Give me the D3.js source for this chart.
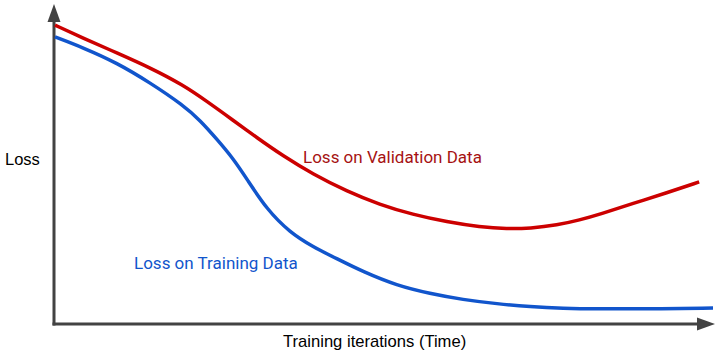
<!DOCTYPE html>
<html>
<head>
<meta charset="utf-8">
<script src="https://cdn.jsdelivr.net/npm/d3@7"></script>
<style>
  html, body { margin: 0; padding: 0; background: #fff; }
</style>
</head>
<body>
<script>
const WIDTH = 720;
const HEIGHT = 353;
const AXIS_COLOR = "#434343";
const RED = "#cc0000";
const BLUE = "#1155cc";

// iterations (0-100) and loss (0-100)
const validationIter = [0, 4.2, 9.4, 14.4, 19.4, 23.0, 26.9, 30.6, 34.5, 39.1, 44.2, 49.2, 54.2, 59.4, 64.4, 68.5, 72.0, 76.1, 79.5, 82.6, 87.6, 92.7, 97.6];
const validationLoss = [93.4, 89.4, 84.7, 80.1, 74.7, 69.6, 63.8, 58.2, 52.6, 46.8, 41.5, 37.3, 34.2, 31.9, 30.3, 29.7, 29.9, 30.9, 32.5, 34.3, 37.7, 41.0, 44.4];

const trainingIter = [0, 4.2, 9.4, 14.4, 19.4, 22.0, 24.5, 27.0, 29.1, 32.1, 35.6, 39.1, 42.7, 46.7, 51.8, 56.8, 61.8, 67.0, 72.0, 77.0, 82.1, 89.7, 99.7];
const trainingLoss = [89.7, 86.4, 81.6, 75.4, 68.4, 63.6, 57.8, 51.7, 45.2, 35.8, 28.6, 24.1, 20.4, 16.3, 12.0, 9.5, 7.6, 6.3, 5.4, 4.9, 4.7, 4.7, 5.0];

const svg = d3.select("body").append("svg")
  .attr("width", WIDTH).attr("height", HEIGHT);

const x = d3.scaleLinear().domain([0, 100]).range([55, 715]);
const y = d3.scaleLinear().domain([0, 100]).range([324, 4]);

const zip = (xs, ys) => xs.map((v, i) => [v, ys[i]]);

const line = d3.line()
  .x(d => x(d[0]))
  .y(d => y(d[1]))
  .curve(d3.curveBasis);

// axes with arrowheads
const x0 = x(0) - 1, y0 = y(0);
const xEnd = x.range()[1], yEnd = y.range()[1];
const AH = 18, AW = 6.5;

svg.append("line")
  .attr("x1", x0).attr("y1", y0 + 1.5)
  .attr("x2", x0).attr("y2", yEnd + AH - 1)
  .attr("stroke", AXIS_COLOR).attr("stroke-width", 3);
svg.append("path")
  .attr("d", `M${x0},${yEnd} L${x0 + AW},${yEnd + AH} L${x0 - AW},${yEnd + AH} Z`)
  .attr("fill", AXIS_COLOR);

svg.append("line")
  .attr("x1", x0 - 1.5).attr("y1", y0)
  .attr("x2", xEnd - AH + 1).attr("y2", y0)
  .attr("stroke", AXIS_COLOR).attr("stroke-width", 3);
svg.append("path")
  .attr("d", `M${xEnd},${y0} L${xEnd - AH},${y0 - AW} L${xEnd - AH},${y0 + AW} Z`)
  .attr("fill", AXIS_COLOR);

// curves
svg.append("path")
  .datum(zip(validationIter, validationLoss))
  .attr("d", line)
  .attr("fill", "none")
  .attr("stroke", RED)
  .attr("stroke-width", 3.5);

svg.append("path")
  .datum(zip(trainingIter, trainingLoss))
  .attr("d", line)
  .attr("fill", "none")
  .attr("stroke", BLUE)
  .attr("stroke-width", 3.5);

// labels
svg.append("text")
  .attr("x", 5).attr("y", 165)
  .style("font-family", "'Liberation Sans', Arial, sans-serif")
  .style("font-size", "16.5px")
  .attr("fill", "#000")
  .text("Loss");

svg.append("text")
  .attr("x", 283).attr("y", 347)
  .style("font-family", "'Liberation Sans', Arial, sans-serif")
  .style("font-size", "16.6px")
  .attr("fill", "#000")
  .text("Training iterations (Time)");

svg.append("text")
  .attr("x", 303).attr("y", 163)
  .style("font-family", "Roboto, sans-serif")
  .style("font-size", "17px")
  .attr("fill", "#a61212")
  .text("Loss on Validation Data");

svg.append("text")
  .attr("x", 134).attr("y", 269)
  .style("font-family", "Roboto, sans-serif")
  .style("font-size", "17px")
  .attr("fill", BLUE)
  .text("Loss on Training Data");
</script>
</body>
</html>
